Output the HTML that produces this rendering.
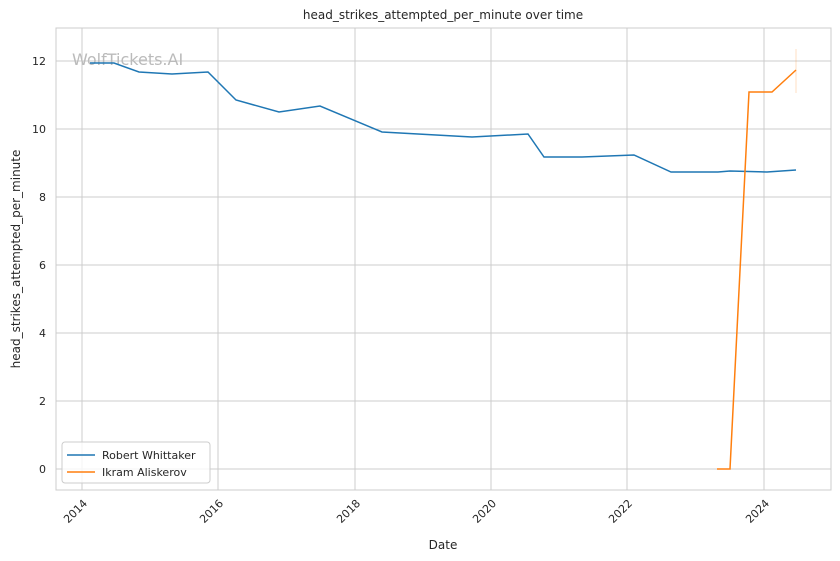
<!DOCTYPE html>
<html><head><meta charset="utf-8"><style>body{margin:0;background:#fff}svg{display:block}text{font-family:"DejaVu Sans","Liberation Sans",sans-serif;fill:#262626}</style></head><body>
<svg width="840" height="561" xmlns="http://www.w3.org/2000/svg">
<rect width="840" height="561" fill="#fff"/>
<g stroke="#cccccc" stroke-width="1">
<line x1="82" y1="28" x2="82" y2="490"/><line x1="218" y1="28" x2="218" y2="490"/><line x1="355" y1="28" x2="355" y2="490"/><line x1="491" y1="28" x2="491" y2="490"/><line x1="627" y1="28" x2="627" y2="490"/><line x1="764" y1="28" x2="764" y2="490"/>
<line x1="56" y1="469" x2="831" y2="469"/><line x1="56" y1="401" x2="831" y2="401"/><line x1="56" y1="333" x2="831" y2="333"/><line x1="56" y1="265" x2="831" y2="265"/><line x1="56" y1="197" x2="831" y2="197"/><line x1="56" y1="129" x2="831" y2="129"/><line x1="56" y1="61" x2="831" y2="61"/>
</g>
<rect x="56" y="28" width="775" height="462" fill="none" stroke="#cccccc" stroke-width="1"/>
<text x="72" y="65" font-size="16" style="fill:#bbbbbb">WolfTickets.AI</text>
<line x1="796" y1="49" x2="796" y2="93" stroke="#ff7f0e" stroke-opacity="0.25" stroke-width="1"/>
<polyline fill="none" stroke="#1f77b4" stroke-width="1.5" points="90,63 114,63 139,72 172,74 208,72 236,100 279,112 320,106 382,132 472,137 528,134 544,157 582,157 634,155 671,172 718,172 730,171 767,172 796,170"/>
<polyline fill="none" stroke="#ff7f0e" stroke-width="1.5" points="717,469 730,469 749,92 772,92 796,70"/>
<g font-size="11" text-anchor="end">
<text x="46" y="473">0</text><text x="46" y="405">2</text><text x="46" y="337">4</text><text x="46" y="269">6</text><text x="46" y="201">8</text><text x="46" y="133">10</text><text x="46" y="65">12</text>
</g>
<g font-size="11" text-anchor="end">
<text transform="translate(88,504) rotate(-45)">2014</text><text transform="translate(224,504) rotate(-45)">2016</text><text transform="translate(361,504) rotate(-45)">2018</text><text transform="translate(497,504) rotate(-45)">2020</text><text transform="translate(633,504) rotate(-45)">2022</text><text transform="translate(770,504) rotate(-45)">2024</text>
</g>
<text x="443" y="549" font-size="12" text-anchor="middle">Date</text>
<text transform="translate(20,259) rotate(-90)" font-size="12" text-anchor="middle">head_strikes_attempted_per_minute</text>
<text x="443" y="19" font-size="12" text-anchor="middle">head_strikes_attempted_per_minute over time</text>
<rect x="62" y="442" width="148" height="41" rx="3" fill="#fff" fill-opacity="0.8" stroke="#cccccc"/>
<line x1="67" y1="455" x2="95" y2="455" stroke="#1f77b4" stroke-width="1.5"/>
<text x="102" y="459" font-size="11">Robert Whittaker</text>
<line x1="67" y1="472" x2="95" y2="472" stroke="#ff7f0e" stroke-width="1.5"/>
<text x="102" y="476" font-size="11">Ikram Aliskerov</text>
</svg>
</body></html>
